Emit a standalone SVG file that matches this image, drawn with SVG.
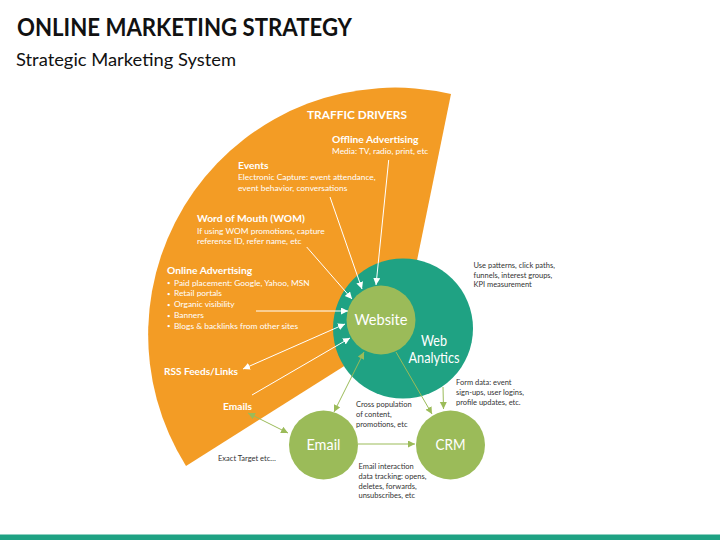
<svg xmlns="http://www.w3.org/2000/svg" width="720" height="540" viewBox="0 0 720 540">
<style>
text{font-family:"Lato","Noto Sans","Liberation Sans",sans-serif}
.w{fill:#fff}
.b{font-weight:700;font-size:10.3px}
.s{font-size:8.4px}
.p{font-size:6px}
.d{fill:#333;font-size:7.5px}
.c{fill:#fff;font-size:15px;text-anchor:middle}
.wl{stroke:#fff;stroke-width:1;fill:none;marker-end:url(#wa)}
.wd{stroke:#fff;stroke-width:1;fill:none;marker-end:url(#wa);marker-start:url(#wa)}
.gl{stroke:#9bbb59;stroke-width:1;fill:none;marker-end:url(#ga)}
.gd{stroke:#9bbb59;stroke-width:1;fill:none;marker-end:url(#ga);marker-start:url(#ga)}
</style>
<defs>
<marker id="wa" markerUnits="userSpaceOnUse" markerWidth="8" markerHeight="8" refX="7" refY="3.500" orient="auto-start-reverse"><path d="M0 0L7 3.500L0 7z" fill="#fff"/></marker>
<marker id="ga" markerUnits="userSpaceOnUse" markerWidth="8" markerHeight="8" refX="7" refY="3.500" orient="auto-start-reverse"><path d="M0 0L7 3.500L0 7z" fill="#9bbb59"/></marker>
</defs>
<rect width="720" height="540" fill="#fff"/>
<rect y="534.500" width="720" height="5.500" fill="#1fa283"/>
<text x="17" y="36" font-size="24.500" font-weight="700" fill="#111" textLength="335" lengthAdjust="spacingAndGlyphs">ONLINE MARKETING STRATEGY</text>
<text x="16" y="66" font-size="18" fill="#111" textLength="220" lengthAdjust="spacingAndGlyphs">Strategic Marketing System</text>
<g id="traffic-drivers">
<path d="M403 329L451 94A247 247 0 0 0 186 466Z" fill="#f39c25"/>
<text class="w" x="307" y="119" font-size="12" font-weight="700" textLength="100" lengthAdjust="spacingAndGlyphs">TRAFFIC DRIVERS</text>
<text class="w b" x="332" y="143">Offline Advertising</text>
<text class="w s" x="332" y="154">Media: TV, radio, print, etc</text>
<text class="w b" x="238" y="169">Events</text>
<text class="w s" x="238" y="180">Electronic Capture: event attendance,</text>
<text class="w s" x="238" y="191">event behavior, conversations</text>
<text class="w b" x="197" y="222">Word of Mouth (WOM)</text>
<text class="w s" x="197" y="233.500">If using WOM promotions, capture</text>
<text class="w s" x="197" y="244">reference ID, refer name, etc</text>
<text class="w b" x="167" y="274">Online Advertising</text>
<text class="w p" x="167" y="285">•</text><text class="w s" x="174" y="285.500">Paid placement: Google, Yahoo, MSN</text>
<text class="w p" x="167" y="295.500">•</text><text class="w s" x="174" y="296">Retail portals</text>
<text class="w p" x="167" y="306.500">•</text><text class="w s" x="174" y="307">Organic visibility</text>
<text class="w p" x="167" y="317.500">•</text><text class="w s" x="174" y="318">Banners</text>
<text class="w p" x="167" y="328">•</text><text class="w s" x="174" y="328.500">Blogs &amp; backlinks from  other sites</text>
<text class="w b" x="164" y="375" textLength="74" lengthAdjust="spacingAndGlyphs">RSS Feeds/Links</text>
<text class="w b" x="223" y="410" textLength="29" lengthAdjust="spacingAndGlyphs">Emails</text>
</g>
<g id="web-analytics">
<circle cx="403" cy="328.500" r="70" fill="#1fa283"/>
<text class="c" x="434" y="346" textLength="26" lengthAdjust="spacingAndGlyphs">Web</text>
<text class="c" x="434" y="363" textLength="51" lengthAdjust="spacingAndGlyphs">Analytics</text>
</g>
<g id="website">
<circle cx="381" cy="320" r="34.500" fill="#9bbb59"/>
<text class="c" x="381" y="325" textLength="53" lengthAdjust="spacingAndGlyphs">Website</text>
</g>
<g id="email">
<circle cx="323.500" cy="445" r="34.500" fill="#9bbb59"/>
<text class="c" x="323.500" y="450" textLength="34" lengthAdjust="spacingAndGlyphs">Email</text>
</g>
<g id="crm">
<circle cx="450.500" cy="445" r="34.500" fill="#9bbb59"/>
<text class="c" x="450.500" y="450" textLength="30" lengthAdjust="spacingAndGlyphs">CRM</text>
</g>
<g id="connectors">
<line class="wl" x1="388.700" y1="160" x2="376" y2="285"/>
<line class="wl" x1="330" y1="197" x2="362" y2="289"/>
<line class="wl" x1="306.700" y1="247" x2="352" y2="299"/>
<line class="wl" x1="256" y1="311" x2="348" y2="311"/>
<line class="wd" x1="243" y1="369" x2="345" y2="324"/>
<line class="wl" x1="252" y1="395" x2="350" y2="338"/>
<line class="gd" x1="334" y1="412" x2="364" y2="352"/>
<line class="gd" x1="248" y1="413" x2="288" y2="433"/>
<line class="gl" x1="396" y1="352" x2="432" y2="414"/>
<line class="gl" x1="443" y1="387" x2="443.500" y2="409"/>
<line class="gl" x1="358" y1="444" x2="415" y2="444"/>
</g>
<g id="notes">
<text class="d" x="473.500" y="268">Use patterns, click paths,</text>
<text class="d" x="473.500" y="277.500">funnels, interest groups,</text>
<text class="d" x="473.500" y="287">KPI measurement</text>
<text class="d" x="456" y="385">Form data: event</text>
<text class="d" x="456" y="395">sign-ups, user logins,</text>
<text class="d" x="456" y="404.500">profile updates, etc.</text>
<text class="d" x="356" y="407">Cross population</text>
<text class="d" x="356" y="417">of content,</text>
<text class="d" x="356" y="426.500">promotions, etc</text>
<text class="d" x="218" y="461">Exact Target etc…</text>
<text class="d" x="358.500" y="469">Email interaction</text>
<text class="d" x="358.500" y="479">data tracking: opens,</text>
<text class="d" x="358.500" y="488.500">deletes, forwards,</text>
<text class="d" x="358.500" y="498">unsubscribes, etc</text>
</g>
</svg>
